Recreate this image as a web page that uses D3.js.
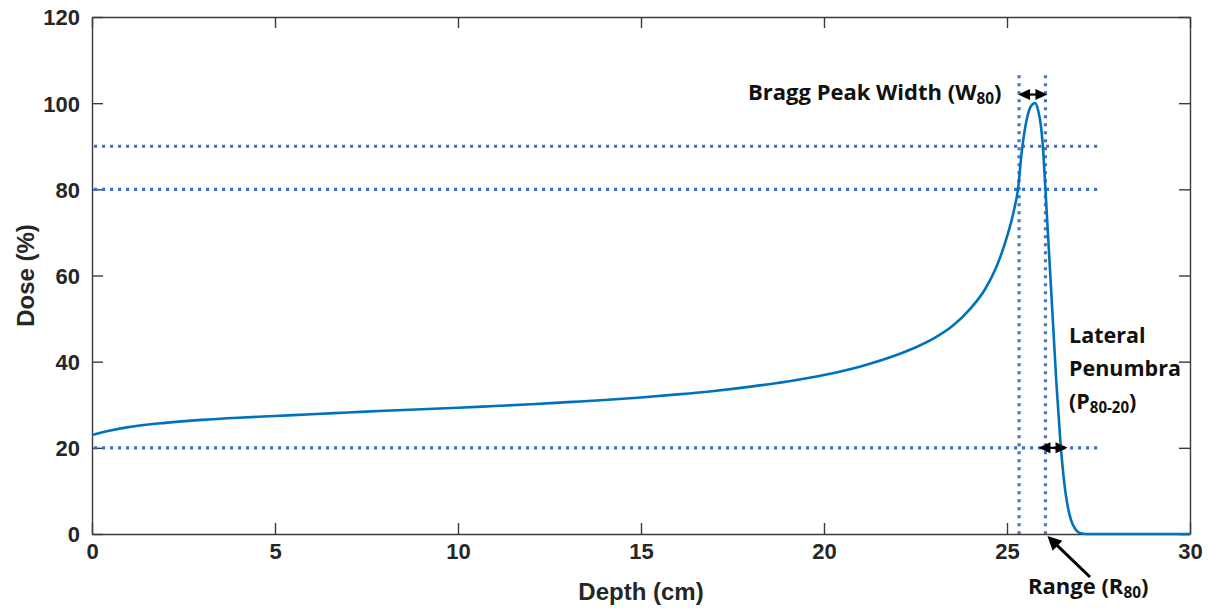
<!DOCTYPE html>
<html>
<head>
<meta charset="utf-8">
<script src="https://cdn.jsdelivr.net/npm/d3@7"></script>
<style>
  html, body { margin: 0; padding: 0; background: #fff; }
  svg { display: block; }
  .tick text { font-family: "Liberation Sans", Arial, sans-serif; font-weight: bold; font-size: 22px; fill: #262626; }
  .ann { font-family: "Open Sans", Lato, sans-serif; font-weight: bold; fill: #111; }
</style>
</head>
<body>
<svg id="chart" width="1208" height="608"></svg>
<script>
// Depth-dose curve of a proton beam (depth in cm, dose in % of peak)
const depth = [0, 0.5, 1, 2, 3, 4, 5, 6, 7, 8, 9, 10, 11, 12, 13, 14, 15, 16, 17, 18, 19, 20,
  21, 22, 22.5, 23, 23.5, 24, 24.4, 24.7, 25.0, 25.2, 25.3, 25.4, 25.5, 25.6, 25.68, 25.77,
  25.86, 25.93, 25.98, 26.05, 26.15, 26.25, 26.35, 26.45, 26.52, 26.6, 26.67, 26.75, 26.86,
  26.95, 27.05, 27.15, 27.3, 28, 29, 30];
const dose = [23.0, 24.0, 24.8, 25.8, 26.5, 27.0, 27.4, 27.8, 28.2, 28.6, 28.95, 29.3, 29.7, 30.1, 30.6, 31.1, 31.7, 32.4, 33.2, 34.2, 35.4, 36.9,
  38.9, 41.6, 43.3, 45.4, 48.2, 52.3, 56.8, 61.8, 69.0, 75.5, 80.0, 88.5, 94.5, 98.2, 99.6, 100,
  98.0, 94.5, 90.0, 80.0, 65.0, 50.0, 35.0, 22.5, 15.5, 9.5, 6.0, 3.2, 1.2,
  0.4, 0.1, 0, 0, 0, 0, 0];

// Reference levels and reference depths
const doseLevels = [90, 80, 20];
const levelExtent = [0, 27.55];
const w80Depths = [25.33, 26.05];
const rangeDepth = 26.05;
const penumbraDepths = [26.05, 26.6];

const xTicks = [0, 5, 10, 15, 20, 25, 30];
const yTicks = [0, 20, 40, 60, 80, 100, 120];

const svg = d3.select("#chart");
const x = d3.scaleLinear().domain([0, 30]).range([92, 1190]);
const y = d3.scaleLinear().domain([0, 120]).range([534, 17]);

const axisColor = "#3a3a3a";
const tickLen = 11;

// Axes (ticks pointing inward, box on all four sides)
const gx = svg.append("g").attr("transform", `translate(0,${y(0)})`)
  .call(d3.axisBottom(x).tickValues(xTicks).tickSize(-tickLen).tickPadding(tickLen + 10).tickSizeOuter(0));
const gy = svg.append("g").attr("transform", `translate(${x(0)},0)`)
  .call(d3.axisLeft(y).tickValues(yTicks).tickSize(-tickLen).tickPadding(12).tickSizeOuter(0));
const gt = svg.append("g").attr("transform", `translate(0,${y(120)})`)
  .call(d3.axisTop(x).tickValues(xTicks).tickSize(-tickLen).tickFormat("").tickSizeOuter(0));
const gr = svg.append("g").attr("transform", `translate(${x(30)},0)`)
  .call(d3.axisRight(y).tickValues(yTicks).tickSize(-tickLen).tickFormat("").tickSizeOuter(0));
[gx, gy, gt, gr].forEach(g => {
  g.selectAll(".domain").attr("stroke", axisColor).attr("stroke-width", 1.4);
  g.selectAll(".tick line").attr("stroke", axisColor).attr("stroke-width", 1.4);
});
gx.selectAll(".tick text").attr("dy", "0.2em");
gy.selectAll(".tick text").attr("dy", "0.36em");

// Axis titles
svg.append("text").attr("x", x(15)).attr("y", 600).attr("text-anchor", "middle")
  .attr("font-family", "'Liberation Sans', Arial, sans-serif").attr("font-weight", "bold")
  .attr("font-size", 24).attr("fill", "#262626").text("Depth (cm)");
svg.append("text").attr("transform", `translate(34,${y(60)}) rotate(-90)`).attr("text-anchor", "middle")
  .attr("font-family", "'Liberation Sans', Arial, sans-serif").attr("font-weight", "bold")
  .attr("font-size", 24).attr("fill", "#262626").text("Dose (%)");

// Dotted reference lines
const dotBlue = "#4472C4";
const dotted = svg.append("g").attr("stroke", dotBlue).attr("stroke-width", 3.2).attr("stroke-dasharray", "3.2,4.8");
doseLevels.forEach(d => {
  dotted.append("line").attr("x1", x(levelExtent[0]) + 2).attr("x2", x(levelExtent[1]))
    .attr("y1", y(d)).attr("y2", y(d));
});
w80Depths.forEach(d => {
  dotted.append("line").attr("x1", x(d)).attr("x2", x(d)).attr("y1", y(106.5)).attr("y2", y(0));
});

// Depth-dose curve
const pts = depth.map((d, i) => [d, dose[i]]);
const line = d3.line().x(d => x(d[0])).y(d => y(d[1])).curve(d3.curveMonotoneX);
svg.append("path").datum(pts).attr("d", line).attr("fill", "none")
  .attr("stroke", "#0072BD").attr("stroke-width", 2.6);

// Arrow helpers
function arrowHead(tipX, tipY, angle, len, half) {
  const c = Math.cos(angle), s = Math.sin(angle);
  const bx = tipX - c * len, by = tipY - s * len;
  return `M${tipX},${tipY}L${bx - s * half},${by + c * half}L${bx + s * half},${by - c * half}Z`;
}
function doubleArrow(x1, x2, yy) {
  const g = svg.append("g");
  g.append("line").attr("x1", x1 + 4).attr("x2", x2 - 4).attr("y1", yy).attr("y2", yy)
    .attr("stroke", "#000").attr("stroke-width", 2.2);
  g.append("path").attr("d", arrowHead(x2, yy, 0, 12, 5.5)).attr("fill", "#000");
  g.append("path").attr("d", arrowHead(x1, yy, Math.PI, 12, 5.5)).attr("fill", "#000");
}
doubleArrow(x(w80Depths[0]) - 1, x(w80Depths[1]) + 2, y(102));
doubleArrow(x(penumbraDepths[0]) - 7, x(penumbraDepths[1]) + 2, y(20));

// Range pointer
const tip = [x(rangeDepth) + 2, y(0) + 2];
const tail = [1090, 577];
const ang = Math.atan2(tip[1] - tail[1], tip[0] - tail[0]);
svg.append("line").attr("x1", tail[0]).attr("y1", tail[1])
  .attr("x2", tip[0] - Math.cos(ang) * 8).attr("y2", tip[1] - Math.sin(ang) * 8)
  .attr("stroke", "#000").attr("stroke-width", 3);
svg.append("path").attr("d", arrowHead(tip[0], tip[1], ang, 14, 7)).attr("fill", "#000");

// Annotation labels
function labelWithSub(xx, yy, main, sub, tail, size) {
  const t = svg.append("text").attr("class", "ann").attr("x", xx).attr("y", yy).attr("font-size", size);
  t.append("tspan").text(main);
  t.append("tspan").attr("font-size", size * 0.7).attr("dy", size * 0.2).text(sub);
  t.append("tspan").attr("dy", -size * 0.2).text(tail);
  return t;
}
labelWithSub(748, 100, "Bragg Peak Width (W", "80", ")", 22);
svg.append("text").attr("class", "ann").attr("x", 1069).attr("y", 343).attr("font-size", 21.5).text("Lateral");
svg.append("text").attr("class", "ann").attr("x", 1069).attr("y", 376).attr("font-size", 21.5).text("Penumbra");
labelWithSub(1069, 409, "(P", "80-20", ")", 21.5);
labelWithSub(1028, 594, "Range (R", "80", ")", 22);
</script>
</body>
</html>
